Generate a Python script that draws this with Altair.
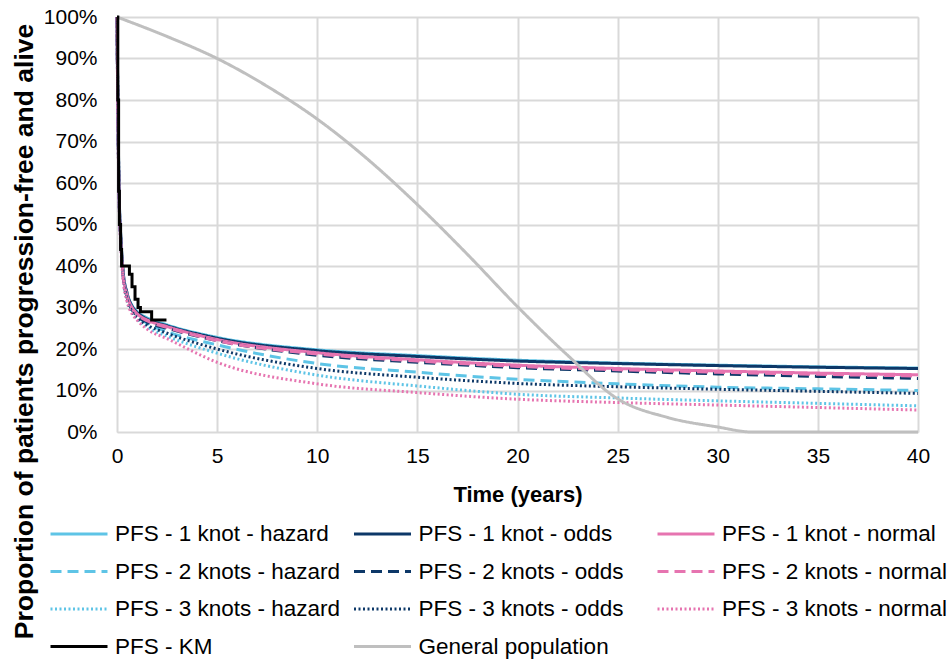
import altair as alt
import pandas as pd

# ---------------- data ----------------
series_names = [
    "PFS - 1 knot - hazard", "PFS - 1 knot - odds", "PFS - 1 knot - normal",
    "PFS - 2 knots - hazard", "PFS - 2 knots - odds", "PFS - 2 knots - normal",
    "PFS - 3 knots - hazard", "PFS - 3 knots - odds", "PFS - 3 knots - normal",
    "PFS - KM", "General population",
]

model_time = [0, 0.05, 0.1, 0.2, 0.3, 0.5, 0.75, 1, 1.5, 2.5, 5, 10, 15, 20, 25, 30, 35, 40]

hazard_1 = [100, 76, 59, 46, 39, 33.5, 30.5, 29.0, 27.5, 25.8, 22.8, 19.8, 18.4, 17.3, 16.6, 16.1, 15.7, 15.4]
odds_1   = [100, 76, 59, 46, 39, 33.5, 30.3, 28.8, 27.2, 25.6, 22.6, 19.6, 18.2, 17.1, 16.5, 16.0, 15.6, 15.3]
normal_1 = [100, 75, 58, 45.5, 38.5, 33, 30.0, 28.5, 27.0, 25.4, 22.3, 19.1, 17.4, 16.1, 15.3, 14.7, 14.2, 13.8]
hazard_2 = [100, 75, 58, 45, 38, 32.5, 29.5, 28.0, 26.2, 24.2, 21.0, 16.5, 14.4, 12.7, 11.6, 10.8, 10.4, 10.0]
odds_2   = [100, 75, 58, 45, 38, 32.5, 29.5, 28.0, 26.5, 25.0, 22.0, 18.5, 16.8, 15.5, 14.7, 14.0, 13.4, 12.9]
normal_2 = [100, 75, 58, 45, 38, 32.8, 29.8, 28.3, 26.8, 25.2, 22.0, 18.8, 17.1, 15.8, 15.0, 14.4, 13.9, 13.5]
hazard_3 = [100, 75, 58, 45, 38, 32, 29.0, 27.2, 25.3, 23.1, 19.0, 13.7, 11.1, 9.1, 8.2, 7.5, 6.9, 6.3]
odds_3   = [100, 75, 58, 45, 38, 32, 29.0, 27.5, 25.8, 23.8, 20.0, 15.3, 13.2, 11.7, 10.9, 10.3, 9.8, 9.3]
normal_3 = [100, 74, 57, 44, 37, 31.5, 28.5, 27.0, 24.8, 22.5, 16.8, 11.6, 9.5, 7.9, 7.1, 6.5, 5.9, 5.3]

km_time = [0, 0.04, 0.08, 0.12, 0.18, 0.23, 0.62, 0.75, 0.9, 1.05, 1.17, 1.73, 2.47]
km_pfs  = [100, 80, 58, 50, 44, 40, 38, 35, 32, 30, 29, 27, 27]

genpop_time = [0, 2.5, 5, 7.5, 10, 12.5, 15, 17.5, 20, 22.5, 25, 27.5, 30, 31.7, 35, 40]
genpop_surv = [100, 95.3, 90, 83.3, 75.4, 65.8, 54.8, 42.8, 30.2, 18.5, 8.0, 3.5, 1.2, 0, 0, 0]

x_ticks = [0, 5, 10, 15, 20, 25, 30, 35, 40]
y_ticks = [0, 10, 20, 30, 40, 50, 60, 70, 80, 90, 100]

# ---------------- styles ----------------
LB, NV, PK = "#5ec4e6", "#0d3868", "#e674b0"
series_colors = [LB, NV, PK, LB, NV, PK, LB, NV, PK, "#000000", "#bfbfbf"]
series_dash = [[1, 0], [1, 0], [1, 0],
               [11, 6], [11, 6], [11, 6],
               [2, 2.5], [2, 2.5], [2, 2.5],
               [1, 0], [1, 0]]
series_width = [3, 3, 3, 3, 3, 3, 2.5, 2.5, 2.5, 3, 3]

model_values = [hazard_1, odds_1, normal_1, hazard_2, odds_2, normal_2, hazard_3, odds_3, normal_3]
rows = []
for name, vals in zip(series_names[:9], model_values):
    for t, v in zip(model_time, vals):
        rows.append({"series": name, "t": t, "v": v})
models_df = pd.DataFrame(rows)
km_df = pd.DataFrame({"series": "PFS - KM", "t": km_time, "v": km_pfs})
gp_df = pd.DataFrame({"series": "General population", "t": genpop_time, "v": genpop_surv})

FONT = "Liberation Sans"

legend = alt.Legend(
    title=None, orient="none", legendX=-68, legendY=500, columns=3, direction="horizontal",
    gridAlign="all", columnPadding=11.5, rowPadding=3.5, clipHeight=34, symbolType="stroke",
    symbolSize=3249, labelOffset=6, labelFontSize=22.5, labelFont=FONT,
    labelColor="#000000", labelLimit=400, padding=0,
)

x_enc = alt.X("t:Q", scale=alt.Scale(domain=[0, 40], nice=False, zero=False),
              axis=alt.Axis(values=x_ticks, title="Time (years)", labelFontSize=21,
                            labelFont=FONT, labelColor="#000000", ticks=False, tickSize=0,
                            labelPadding=30, labelBaseline="alphabetic", labelFlush=False,
                            domain=False, gridColor="#d9d9d9", gridWidth=2,
                            titleFont=FONT, titleFontSize=22, titleFontWeight="bold",
                            titleColor="#000000", titleY=69, titleBaseline="alphabetic"))
y_enc = alt.Y("v:Q", scale=alt.Scale(domain=[0, 100], nice=False),
              axis=alt.Axis(values=y_ticks, labelExpr="datum.value + '%'",
                            title="Proportion of patients progression-free  and alive",
                            labelFontSize=21, labelFont=FONT, labelColor="#000000",
                            ticks=False, tickSize=0, labelPadding=20, domain=False,
                            labelFlush=False,
                            gridColor="#d9d9d9", gridWidth=2,
                            titleFont=FONT, titleFontSize=26.5, titleFontWeight="bold",
                            titleColor="#000000", titleAngle=270, titleX=-85, titleY=314,
                            titleBaseline="alphabetic", titleAlign="center"))

color_enc = alt.Color("series:N", scale=alt.Scale(domain=series_names, range=series_colors),
                      legend=legend)
dash_enc = alt.StrokeDash("series:N", scale=alt.Scale(domain=series_names, range=series_dash),
                          legend=legend)
width_enc = alt.StrokeWidth("series:N", scale=alt.Scale(domain=series_names, range=series_width),
                            legend=legend)

models = alt.Chart(models_df).mark_line(interpolate="monotone").encode(
    x=x_enc, y=y_enc, color=color_enc, strokeDash=dash_enc, strokeWidth=width_enc)
genpop = alt.Chart(gp_df).mark_line(interpolate="monotone").encode(
    x=x_enc, y=y_enc, color=color_enc, strokeDash=dash_enc, strokeWidth=width_enc)
km = alt.Chart(km_df).mark_line(interpolate="step-after").encode(
    x=x_enc, y=y_enc, color=color_enc, strokeDash=dash_enc, strokeWidth=width_enc)

chart = alt.layer(models, genpop, km).properties(
    width=801, height=415,
    autosize=alt.AutoSizeParams(type="none"),
    padding={"left": 117, "top": 17, "right": 30, "bottom": 227},
).configure_view(stroke="#000000", strokeWidth=2).configure(background="#ffffff")

chart.save("out.html", embed_options={"renderer": "svg", "actions": False})
